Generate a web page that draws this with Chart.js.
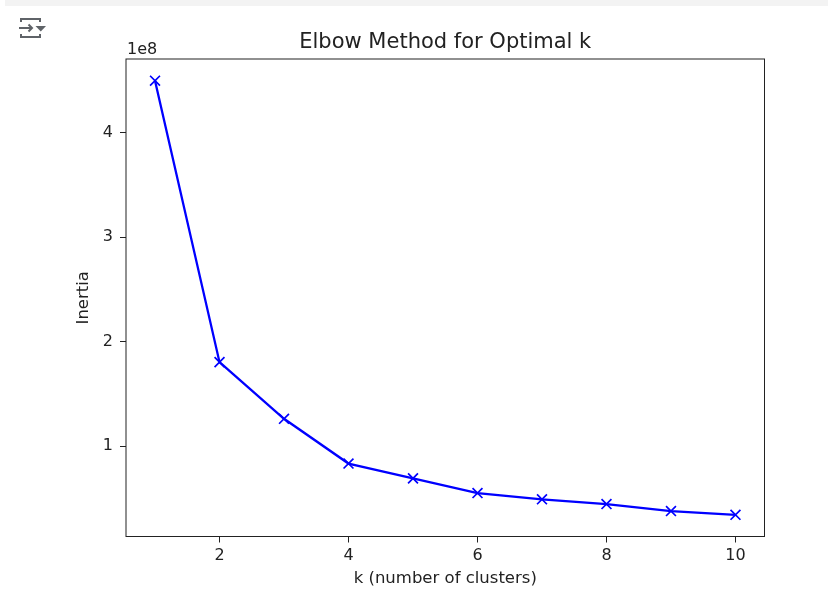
<!DOCTYPE html>
<html lang="en">
<head>
    <meta charset="UTF-8">
    <title>Elbow Method for Optimal k</title>
    <script src="https://cdn.jsdelivr.net/npm/chart.js"></script>
    <style>
        html, body { margin: 0; padding: 0; background: #fff; }
        body { width: 828px; height: 602px; position: relative; overflow: hidden; }
        .topbar { position: absolute; left: 5px; top: 0; width: 823px; height: 6px; background: #f3f3f3; }
        .icon { position: absolute; left: 0; top: 0; }
        #chart { position: absolute; left: 0; top: 0; }
    </style>
</head>
<body>
    <div class="topbar"></div>
    <svg class="icon" width="60" height="50" viewBox="0 0 60 50">
        <g fill="none" stroke="#5f6368" stroke-width="2">
            <path d="M21 22 V19 H40 V22"/>
            <path d="M21 34 V37 H40 V34"/>
            <path d="M19 28 H32 M28.5 24.5 L32 28 L28.5 31.5"/>
        </g>
        <path d="M35.5 26 H46 L40.8 31.5 Z" fill="#5f6368"/>
    </svg>
    <canvas id="chart" width="828" height="602"></canvas>

    <script>
        // k values and the inertia
        const kValues = [1, 2, 3, 4, 5, 6, 7, 8, 9, 10];
        const inertia = [4.497e8, 1.805e8, 1.263e8, 0.835e8, 0.693e8, 0.553e8, 0.493e8, 0.448e8, 0.381e8, 0.345e8];
        const xTicks = [2, 4, 6, 8, 10];
        const yTicks = [1e8, 2e8, 3e8, 4e8];

        const FONT = "'DejaVu Sans', sans-serif";
        const INK = '#222';

        // matplotlib style 5% margins
        const yLo = Math.min(...inertia), yHi = Math.max(...inertia);
        const yPad = (yHi - yLo) * 0.05;
        const xLo = Math.min(...kValues), xHi = Math.max(...kValues);
        const xPad = (xHi - xLo) * 0.05;

        const frame = {
            id: 'frame',
            afterDraw(chart) {
                const {ctx, chartArea: a} = chart;
                ctx.save();
                ctx.strokeStyle = INK;
                ctx.lineWidth = 1;
                ctx.strokeRect(a.left, a.top, a.right - a.left, a.bottom - a.top);
                ctx.fillStyle = INK;
                ctx.textBaseline = 'alphabetic';
                ctx.font = '21px ' + FONT;
                ctx.textAlign = 'center';
                ctx.fillText('Elbow Method for Optimal k', (a.left + a.right) / 2, 48);
                ctx.font = '16px ' + FONT;
                ctx.textAlign = 'left';
                ctx.fillText('1e8', a.left + 1, 54);
                ctx.restore();
            }
        };

        const ctx = document.getElementById('chart').getContext('2d');
        new Chart(ctx, {
            type: 'line',
            data: {
                datasets: [{
                    label: 'Inertia',
                    data: kValues.map((k, i) => ({x: k, y: inertia[i]})),
                    borderColor: '#0000ff',
                    borderWidth: 2.3,
                    pointStyle: 'crossRot',
                    pointRadius: 7,
                    pointBorderWidth: 1.7,
                    pointBorderColor: '#0000ff',
                    pointBackgroundColor: '#0000ff',
                    fill: false,
                    tension: 0
                }]
            },
            options: {
                responsive: false,
                animation: false,
                layout: { padding: { left: 0, right: 63.5, top: 59, bottom: 0 } },
                plugins: {
                    legend: { display: false },
                    tooltip: { enabled: false }
                },
                scales: {
                    x: {
                        type: 'linear',
                        min: xLo - xPad,
                        max: xHi + xPad,
                        afterFit: s => { s.height = 65.5; },
                        afterBuildTicks: s => { s.ticks = xTicks.map(v => ({value: v})); },
                        border: { display: false },
                        grid: { drawOnChartArea: false, drawTicks: true, tickLength: 6, color: INK },
                        ticks: {
                            color: INK, padding: 4, maxRotation: 0, autoSkip: false,
                            font: { family: FONT, size: 16 },
                            callback: v => String(v)
                        },
                        title: {
                            display: true, text: 'k (number of clusters)', color: INK,
                            font: { family: FONT, size: 16.5 }, padding: { top: 0, bottom: 13 }
                        }
                    },
                    y: {
                        type: 'linear',
                        min: yLo - yPad,
                        max: yHi + yPad,
                        afterFit: s => { s.width = 126; },
                        afterBuildTicks: s => { s.ticks = yTicks.map(v => ({value: v})); },
                        border: { display: false },
                        grid: { drawOnChartArea: false, drawTicks: true, tickLength: 6, color: INK },
                        ticks: {
                            color: INK, padding: 7, autoSkip: false,
                            font: { family: FONT, size: 16 },
                            callback: v => String(Math.round(v / 1e8))
                        },
                        title: {
                            display: true, text: 'Inertia', color: INK,
                            font: { family: FONT, size: 16.5 }, padding: { top: 74, bottom: 0 }
                        }
                    }
                }
            },
            plugins: [frame]
        });
    </script>
</body>
</html>
